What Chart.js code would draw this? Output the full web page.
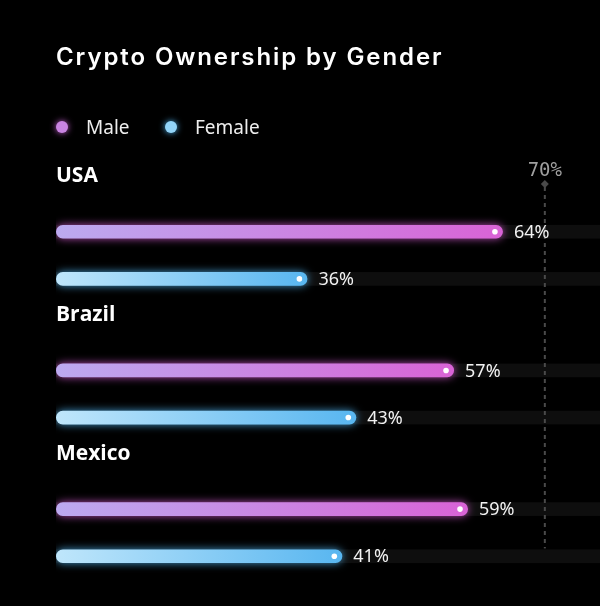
<!DOCTYPE html>
<html>
<head>
<meta charset="utf-8">
<script src="https://cdn.jsdelivr.net/npm/chart.js@4"></script>
<style>
  html, body { margin: 0; padding: 0; background: #000; }
  #wrap { position: relative; width: 600px; height: 606px; overflow: hidden; }
  #chart { position: absolute; left: 0; top: 0; }
  .title {
    position: absolute; left: 56px; top: 42px;
    font: 600 24px Inter, sans-serif; letter-spacing: 1.9px; color: #fff;
  }
  .legend { position: absolute; top: 114px; left: 56px; font: 19px "Noto Sans", sans-serif; color: #eee; }
  .legend span { position: absolute; white-space: nowrap; }
  .dot { width: 12px; height: 12px; border-radius: 50%; top: 7px; }
</style>
</head>
<body>
<div id="wrap">
  <canvas id="chart" width="600" height="606"></canvas>
  <div class="title">Crypto Ownership by Gender</div>
  <div class="legend">
    <span class="dot" style="left:0; background:#c984e2; box-shadow:0 0 6px #c45fd0;"></span>
    <span style="left:30px;">Male</span>
    <span class="dot" style="left:109px; background:#92d4f8; box-shadow:0 0 6px #4fb0ea;"></span>
    <span style="left:139px;">Female</span>
  </div>
</div>
<script>
const countries = ["USA", "Brazil", "Mexico"];
const male = [64, 57, 59];
const female = [36, 43, 41];
const markerValue = 70;

function barGradient(chart, value, from, to) {
  const area = chart.chartArea;
  if (!area) return from;
  const x0 = chart.scales.x.getPixelForValue(0);
  const x1 = chart.scales.x.getPixelForValue(value);
  const g = chart.ctx.createLinearGradient(x0, 0, x1, 0);
  g.addColorStop(0, from);
  g.addColorStop(1, to);
  return g;
}

// faint tracks, glow, end dots, value labels, country headings, 70% marker
const decor = {
  id: "decor",
  beforeDatasetsDraw(chart) {
    const ctx = chart.ctx;
    ctx.save();
    ctx.fillStyle = "#0e0e0e";
    chart.data.datasets.forEach((ds, i) => {
      chart.getDatasetMeta(i).data.forEach(bar => {
        ctx.fillRect(bar.base, bar.y - bar.height / 2, chart.width - bar.base, bar.height);
      });
    });
    // 70% dashed marker
    const x = chart.scales.x.getPixelForValue(markerValue);
    const last = chart.getDatasetMeta(1).data[2];
    ctx.strokeStyle = "#4a4a4a";
    ctx.lineWidth = 2;
    ctx.setLineDash([4, 4]);
    ctx.beginPath();
    ctx.moveTo(x, 187);
    ctx.lineTo(x, last.y - last.height / 2 - 1);
    ctx.stroke();
    ctx.setLineDash([]);
    ctx.fillStyle = "#4a4a4a";
    ctx.beginPath();
    ctx.moveTo(x, 180); ctx.lineTo(x + 4, 184); ctx.lineTo(x, 188); ctx.lineTo(x - 4, 184);
    ctx.closePath(); ctx.fill();
    ctx.fillStyle = "#a0a0a0";
    ctx.font = "19px 'DejaVu Sans Mono'";
    ctx.textAlign = "center";
    ctx.textBaseline = "middle";
    ctx.fillText(markerValue + "%", x, 171);
    ctx.restore();
  },
  beforeDatasetDraw(chart, args) {
    const ctx = chart.ctx;
    ctx.save();
    ctx.shadowColor = args.index === 0 ? "rgba(214,90,210,0.85)" : "rgba(80,180,240,0.85)";
    ctx.shadowBlur = 8;
  },
  afterDatasetDraw(chart) {
    chart.ctx.restore();
  },
  afterDatasetsDraw(chart) {
    const ctx = chart.ctx;
    ctx.save();
    chart.data.datasets.forEach((ds, i) => {
      chart.getDatasetMeta(i).data.forEach((bar, j) => {
        ctx.fillStyle = "#fff";
        ctx.beginPath();
        ctx.arc(bar.x - 8, bar.y, 2.8, 0, Math.PI * 2);
        ctx.fill();
        ctx.font = "18px 'Noto Sans'";
        ctx.fillStyle = "#f2f2f2";
        ctx.textAlign = "left";
        ctx.textBaseline = "middle";
        ctx.fillText(ds.data[j] + "%", bar.x + 11, bar.y + 1);
      });
    });
    const ys = chart.scales.y;
    ctx.font = "bold 21px 'Open Sans'";
    ctx.fillStyle = "#fff";
    countries.forEach((c, j) => {
      ctx.fillText(c, 56, ys.getPixelForValue(j) - 79);
    });
    ctx.restore();
  }
};

new Chart(document.getElementById("chart"), {
  type: "bar",
  data: {
    labels: countries,
    datasets: [
      {
        label: "Male",
        data: male,
        backgroundColor: c => barGradient(c.chart, c.raw, "#bcaaf0", "#d963d6")
      },
      {
        label: "Female",
        data: female,
        backgroundColor: c => barGradient(c.chart, c.raw, "#bfe6fb", "#58b6f0")
      }
    ]
  },
  options: {
    indexAxis: "y",
    responsive: false,
    animation: false,
    datasets: { bar: { borderRadius: 7, borderSkipped: false, categoryPercentage: 0.68, barPercentage: 0.29 } },
    layout: { padding: { top: 186, bottom: 4, left: 56, right: 0 } },
    scales: {
      x: { display: false, min: 0, max: 77.9 },
      y: { display: false }
    },
    plugins: { legend: { display: false }, tooltip: { enabled: false } }
  },
  plugins: [decor]
});
</script>
</body>
</html>
